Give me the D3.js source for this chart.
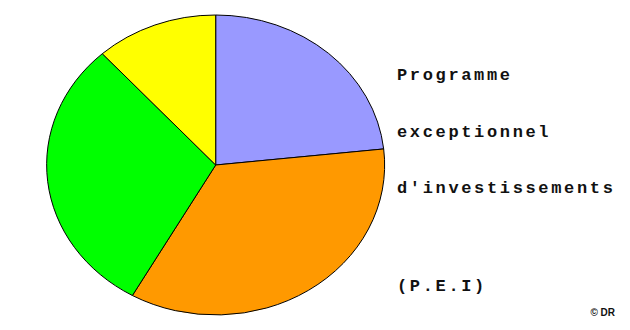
<!DOCTYPE html>
<html><head><meta charset="utf-8">
<script src="https://cdn.jsdelivr.net/npm/d3@7"></script>
<style>body{margin:0;background:#fff}svg{display:block}</style>
</head><body>
<svg id="c" width="630" height="330"></svg>
<script>
const categories = ["A", "B", "C", "D"];
const values = [23.3, 34.9, 30.1, 11.7];
const colors = ["#9999ff", "#ff9900", "#00ff00", "#ffff00"];
const labelLines = ["Programme", "exceptionnel", "d'investissements", "(P.E.I)"];

const svg = d3.select("#c");
const cx = 215.7, cy = 165, rx = 169, ry = 150;
const pie = d3.pie().sort(null).value(d => d.v);
const arcs = pie(categories.map((c, i) => ({c, v: values[i], col: colors[i]})));
const arc = d3.arc().innerRadius(0).outerRadius(1);
const g = svg.append("g").attr("transform", `translate(${cx},${cy}) scale(${rx},${ry})`);
g.selectAll("path").data(arcs).join("path")
  .attr("d", arc)
  .attr("fill", d => d.data.col)
  .attr("stroke", "#000")
  .attr("stroke-width", 1)
  .attr("vector-effect", "non-scaling-stroke");

const ys = [80, 137, 193, 291];
svg.selectAll("text.lab").data(labelLines).join("text")
  .attr("class", "lab")
  .attr("x", 397).attr("y", (d, i) => ys[i])
  .attr("font-family", "'Liberation Mono', 'Courier New', monospace")
  .attr("font-weight", "bold")
  .attr("font-size", 17)
  .attr("letter-spacing", 2.65)
  .attr("fill", "#111")
  .text(d => d);

svg.append("text").attr("x", 615).attr("y", 316).attr("text-anchor", "end")
  .attr("font-family", "'Liberation Sans', Arial, sans-serif")
  .attr("font-size", 10).attr("font-weight", "bold").attr("fill", "#111")
  .text("© DR");
</script>
</body></html>
